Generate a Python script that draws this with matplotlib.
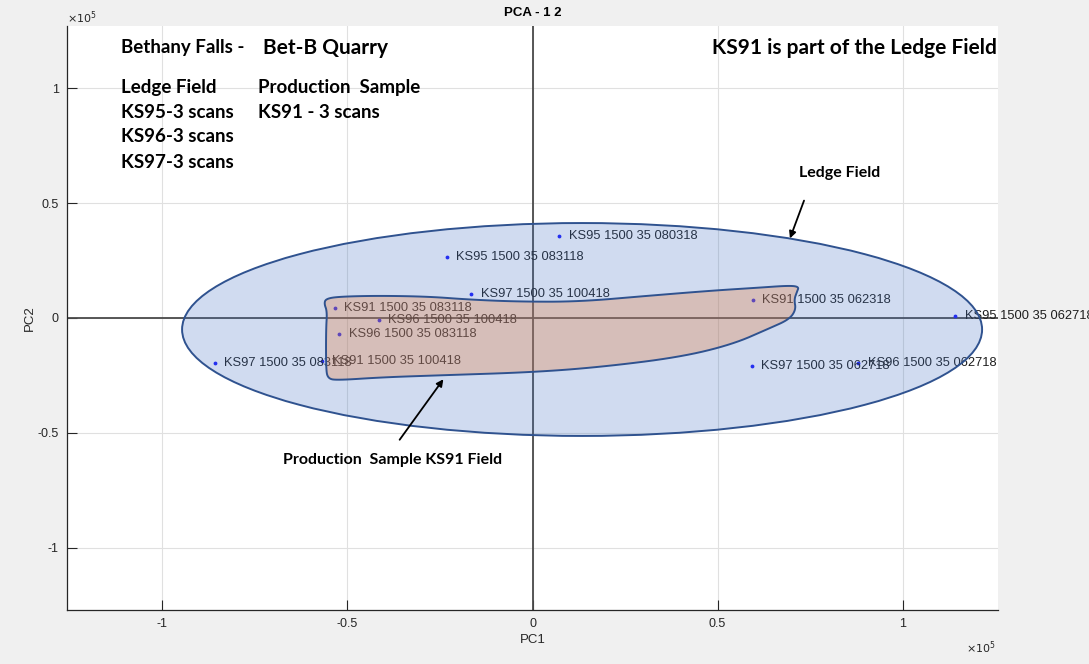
import numpy as np
import matplotlib
matplotlib.use("Agg")
import matplotlib.pyplot as plt
from matplotlib.patches import Ellipse, Polygon, FancyArrowPatch

# ---- scan scores on the first two principal components ----
sample_names = [
    "KS95 1500 35 080318", "KS95 1500 35 083118", "KS97 1500 35 100418",
    "KS91 1500 35 083118", "KS96 1500 35 100418", "KS96 1500 35 083118",
    "KS97 1500 35 083118", "KS91 1500 35 100418", "KS91 1500 35 062318",
    "KS95 1500 35 062718", "KS97 1500 35 062718", "KS96 1500 35 062718",
]
pc1_scores = [7200, -23200, -16600, -53500, -41600, -52200,
              -85900, -56800, 59500, 114200, 59200, 88100]
pc2_scores = [35700, 26700, 10600, 4400, -900, -7100,
              -19600, -18700, 7700, 800, -20700, -19500]

x_ticks = [-1e5, -0.5e5, 0, 0.5e5, 1e5]
y_ticks = [-1e5, -0.5e5, 0, 0.5e5, 1e5]
tick_labels = ["-1", "-0.5", "0", "0.5", "1"]

W, H, DPI = 1089, 664, 100
FIG_BG = "#f0f0f0"
AX_TXT = "#262626"
EDGE = "#2f528f"
NOTE_FONT = ["Lato", "DejaVu Sans"]
AX_FONT = ["Liberation Sans", "DejaVu Sans"]


def fx(px):
    return px / W


def fy(py):
    return 1 - py / H


fig = plt.figure(figsize=(W / DPI, H / DPI), dpi=DPI, facecolor=FIG_BG)
ax = fig.add_axes([fx(67), fy(610), (998 - 67) / W, (610 - 26) / H])
ax.set_facecolor("white")
ax.set_xlim(-1.258e5, 1.258e5)
ax.set_ylim(-1.27e5, 1.27e5)

# grid, box and ticks in the MATLAB look
ax.set_xticks(x_ticks)
ax.set_yticks(y_ticks)
ax.set_xticklabels(tick_labels, fontfamily=AX_FONT)
ax.set_yticklabels(tick_labels, fontfamily=AX_FONT)
ax.grid(True, color="#e0e0e0", lw=0.8, zorder=0)
ax.set_axisbelow(True)
for side in ("top", "right"):
    ax.spines[side].set_visible(False)
for side in ("left", "bottom"):
    ax.spines[side].set_color(AX_TXT)
    ax.spines[side].set_linewidth(0.9)
ax.tick_params(direction="in", length=7, width=0.8, colors=AX_TXT,
               labelsize=9, pad=6)

# origin cross-hair
ax.axhline(0, color="#4a4a4a", lw=1.3, zorder=1)
ax.axvline(0, color="#4a4a4a", lw=1.3, zorder=1)

# sample scores with their labels
ax.plot(pc1_scores, pc2_scores, linestyle="none", marker=".",
        markersize=3.5, color="#1a1aff", zorder=3)
for name, x, y in zip(sample_names, pc1_scores, pc2_scores):
    ax.annotate(name, (x, y), xytext=(7, 0), textcoords="offset points",
                va="center", ha="left", fontsize=9.3, color="#1e1e1e",
                fontfamily=AX_FONT, annotation_clip=False, zorder=4)

# Ledge Field envelope
ledge = Ellipse((13400, -5000), 216200, 92600,
                facecolor=(68/255, 114/255, 196/255, 0.25),
                edgecolor=EDGE, lw=1.4, zorder=5)
ax.add_patch(ledge)

# Production sample envelope (outline in score units, smoothed)
blob_x = np.array([-0.558, -0.522, -0.414, -0.279, -0.171, -0.036, 0.126, 0.315,
                   0.485, 0.612, 0.693, 0.720, 0.715, 0.707, 0.712, 0.694, 0.640,
                   0.540, 0.396, 0.180, -0.001, -0.244, -0.407, -0.531, -0.553,
                   -0.558, -0.558, -0.555, -0.563]) * 1e5
blob_y = np.array([0.084, 0.093, 0.097, 0.093, 0.080, 0.071, 0.071, 0.097,
                   0.119, 0.132, 0.141, 0.136, 0.115, 0.080, 0.037, -0.006, -0.045,
                   -0.115, -0.171, -0.214, -0.236, -0.249, -0.258, -0.271, -0.262,
                   -0.223, -0.050, 0.028, 0.063]) * 1e5


def chaikin(pts, n_iter=3):
    for _ in range(n_iter):
        nxt = np.roll(pts, -1, axis=0)
        q = 0.75 * pts + 0.25 * nxt
        r = 0.25 * pts + 0.75 * nxt
        pts = np.empty((2 * len(q), 2))
        pts[0::2] = q
        pts[1::2] = r
    return pts


blob = Polygon(chaikin(np.column_stack([blob_x, blob_y])), closed=True,
               facecolor=(230/255, 125/255, 60/255, 0.30), edgecolor=EDGE,
               lw=1.4, zorder=6)
ax.add_patch(blob)

# axis furniture
fig.text(fx(533), fy(13), "PCA - 1 2", ha="center", va="center",
         fontsize=9.5, fontweight="bold", fontfamily=AX_FONT, color="black")
fig.text(fx(533), fy(640), "PC1", ha="center", va="center",
         fontsize=9.5, fontfamily=AX_FONT, color=AX_TXT)
fig.text(fx(30), fy(318), "PC2", ha="center", va="center", rotation=90,
         fontsize=9.5, fontfamily=AX_FONT, color=AX_TXT)
fig.text(fx(67), fy(18), r"$\times10^{5}$", ha="left", va="center",
         fontsize=8, color=AX_TXT)
fig.text(fx(996), fy(648), r"$\times10^{5}$", ha="right", va="center",
         fontsize=8, color=AX_TXT)

# notes
notes = [
    ("Bethany Falls -", 121, 48, 13.5, "left"),
    ("Bet-B Quarry", 263, 48, 15, "left"),
    ("Ledge Field", 121, 88, 13.5, "left"),
    ("KS95-3 scans", 121, 113, 13.5, "left"),
    ("KS96-3 scans", 121, 137, 13.5, "left"),
    ("KS97-3 scans", 121, 162, 13.5, "left"),
    ("Production  Sample", 258, 88, 13.5, "left"),
    ("KS91 - 3 scans", 258, 113, 13.5, "left"),
    ("KS91 is part of the Ledge Field", 997, 48, 15, "right"),
    ("Ledge Field", 840, 173, 11.5, "center"),
    ("Production  Sample KS91 Field", 393, 460, 11.5, "center"),
]
for txt, x, y, size, ha in notes:
    fig.text(fx(x), fy(y), txt, ha=ha, va="center", fontsize=size,
             fontweight="bold", fontfamily=NOTE_FONT, color="black")

for (x0, y0), (x1, y1) in [((805, 198), (789, 241)), ((398, 442), (445, 377))]:
    fig.patches.append(FancyArrowPatch((fx(x0), fy(y0)), (fx(x1), fy(y1)),
                                       transform=fig.transFigure,
                                       arrowstyle="-|>", mutation_scale=10,
                                       lw=1.3, color="black", zorder=10))

fig.savefig("out.png", dpi=DPI, facecolor=FIG_BG)
